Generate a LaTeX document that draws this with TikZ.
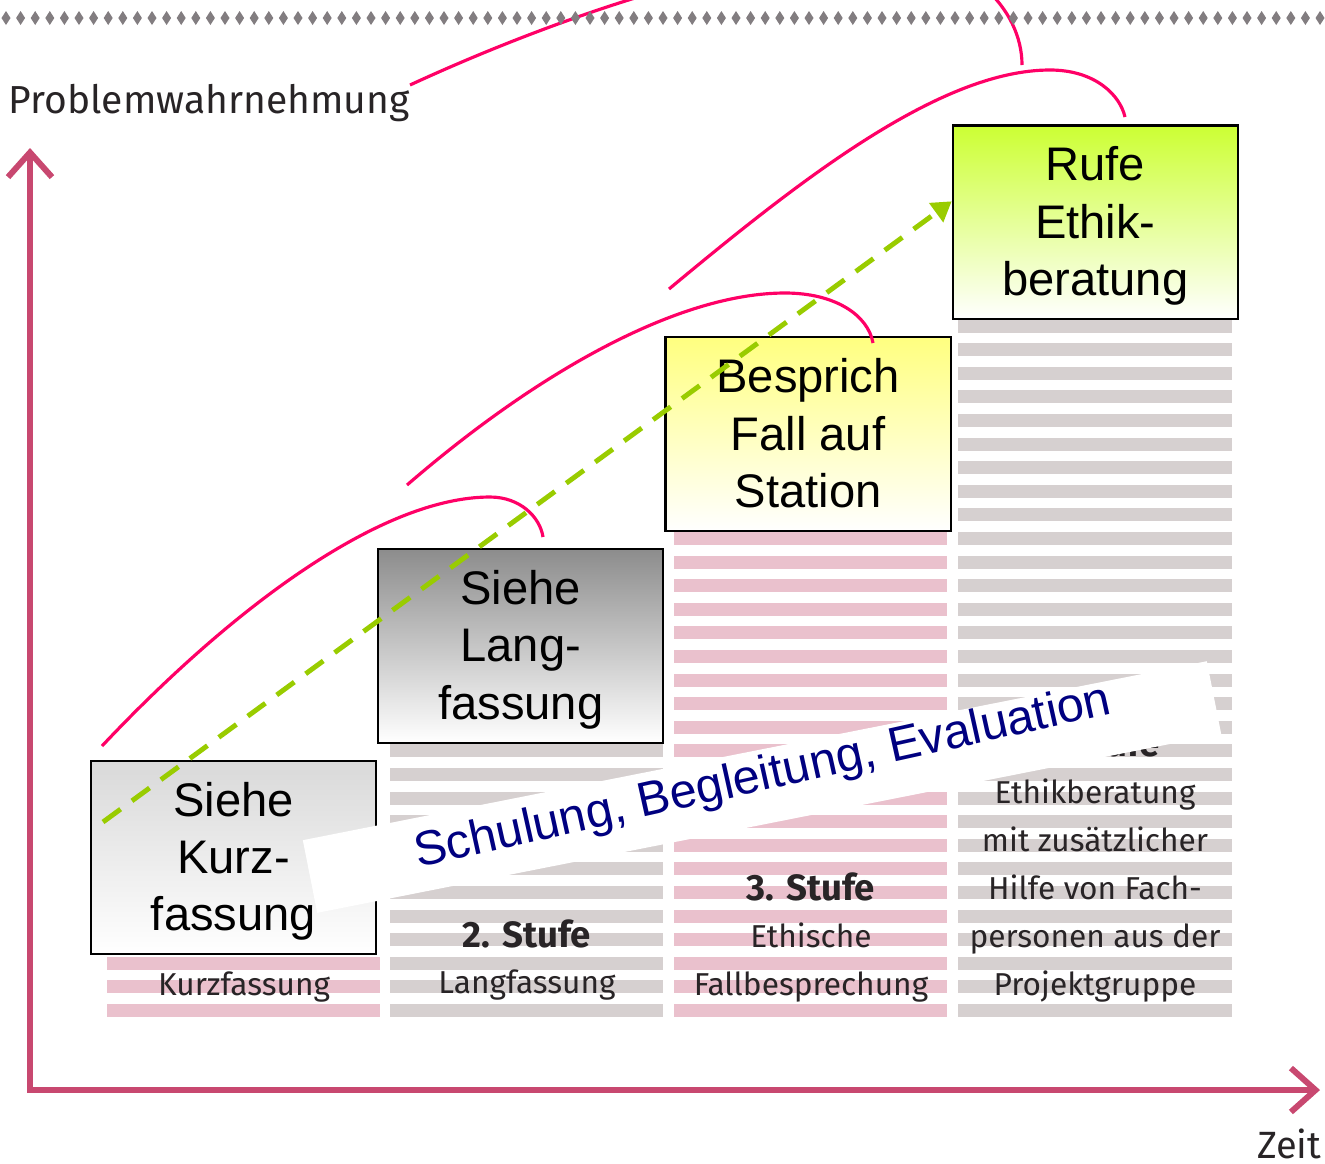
\documentclass[tikz,border=0pt]{standalone}
\usepackage{fontspec}
\setmainfont{Liberation Sans}
\newfontfamily\dinfont{Fira Sans}
\usetikzlibrary{arrows.meta,positioning}
\definecolor{axisred}{RGB}{200,72,112}
\definecolor{arcpink}{RGB}{255,0,102}
\definecolor{trendgreen}{RGB}{153,204,0}
\definecolor{stripepink}{RGB}{234,193,205}
\definecolor{stripegray}{RGB}{214,208,208}
\definecolor{dotgray}{RGB}{130,125,128}
\definecolor{labelgray}{RGB}{40,36,38}
\definecolor{bandblue}{RGB}{0,0,128}
\tikzstyle{stepbox} = [draw=black, line width=0.6pt, minimum width=2.85cm, minimum height=1.935cm, inner sep=0pt, align=center, text depth=0.6pt, font=\fontsize{13.4}{16.3}\selectfont]
\tikzstyle{collabel} = [inner sep=0pt, text=labelgray, font=\dinfont\fontsize{9}{11}\selectfont]
\tikzstyle{stufe} = [inner sep=0pt, text=labelgray, font=\dinfont\bfseries\fontsize{10.4}{12}\selectfont]
\tikzstyle{arc} = [arcpink, line width=0.9pt]
\tikzstyle{axis} = [axisred, line width=1.7pt, {Straight Barb[length=7pt,width=12.5pt]}-{Straight Barb[length=7pt,width=12.5pt]}]
\tikzstyle{trend} = [trendgreen, line width=1.4pt, dash pattern=on 6.2pt off 4pt, -{Triangle[length=5.5pt,width=6.5pt]}]

\begin{document}
\begin{tikzpicture}[x=0.01cm, y=-0.01cm]
        \useasboundingbox (0,0) rectangle (1325,1163);

        \foreach \x/\w/\n/\c in {107/273/2/stripepink, 390/273/11/stripegray, 674/273/20/stripepink, 958/274/29/stripegray}
            \foreach \k in {0,...,\n}
                \fill[\c] (\x,{1004-\k*23.6}) rectangle ++(\w,13);

        \node (kurzlbl) [collabel, anchor=base] at (244,995) {Kurzfassung};
        \node (stufe2) [stufe, anchor=base] at (527,947) {2. Stufe};
        \node (langlbl) [collabel, anchor=base] at (527,993) {Langfassung};
        \node (stufe3) [stufe, anchor=base] at (811,900) {3. Stufe};
        \node (ethlbl) [collabel, anchor=base] at (811,947) {Ethische};
        \node (falllbl) [collabel, anchor=base] at (811,995) {Fallbesprechung};
        \node (stufe4) [stufe, anchor=base] at (1095,756) {4. Stufe};
        \foreach \txt [count=\i from 0] in {Projektgruppe, personen aus der, Hilfe von Fach-, mit zusätzlicher, Ethikberatung}
            \node (beratlbl\i) [collabel, anchor=base] at (1095,{995-\i*47.8}) {\txt};

        \coordinate (ytop) at (30,148);
        \coordinate (origin) at (30,1090);
        \coordinate (xend) at (1320,1090);
        \draw[axis] (ytop) -- (origin) -- (xend);

        \node (kurz) [stepbox, top color=gray!30, bottom color=white] at (233.5,857.5) {};
        \node (lang) [stepbox, top color=gray!90, bottom color=white, above right=0.16cm and 0cm of kurz] {Siehe\\Lang-\\fassung};
        \node (fall) [stepbox, top color=yellow!50, bottom color=white, above right=0.16cm and 0cm of lang] {Besprich\\Fall auf\\Station};
        \node (rufe) [stepbox, top color={rgb,255:red,204;green,255;blue,51}, bottom color=white, above right=0.16cm and 0cm of fall] {Rufe\\Ethik-\\beratung};

        \node (band) [fill=white, inner sep=0pt, minimum width=9.21cm, minimum height=0.74cm, rotate=11.2] at (762,787) {};
        \node (bandtext) [inner sep=0pt, text=bandblue, rotate=12.5, font=\fontsize{13.8}{16}\selectfont] at (763,778) {Schulung, Begleitung, Evaluation};
        \node (kurztext) [stepbox, draw=none] at (kurz) {Siehe\\Kurz-\\fassung};

        \begin{scope}
            \clip (0,0) rectangle (1325,1163);
            \draw[arc] (102,746) .. controls (230,610) and (380,497) .. (490,497) .. controls (520,497) and (540,517) .. (543,537);
            \draw[arc] (407,485) .. controls (540,370) and (680,293) .. (785,293) .. controls (835,293) and (868,315) .. (873,343);
            \draw[arc] (669,289) .. controls (800,180) and (940,70) .. (1050,70) .. controls (1095,70) and (1120,95) .. (1125,117);
            \draw[arc] (410,85) .. controls (540,25) and (720,-40) .. (870,-50) .. controls (970,-50) and (1022,10) .. (1022,65);
        \end{scope}

        \coordinate (gstart) at (103,822);
        \draw[trend] (gstart) -- ([yshift=0.21cm]rufe.west);

        \foreach \i in {0,...,90}
            \fill[dotgray] ({6+\i*14.6},11) -- ++(4.5,7) -- ++(-4.5,7) -- ++(-4.5,-7) -- cycle;

        \node (ylabel) [inner sep=0pt, anchor=base west, text=labelgray, font=\dinfont\fontsize{11.1}{13}\selectfont] at (8,113) {Problemwahrnehmung};
        \node (xlabel) [inner sep=0pt, anchor=base east, text=labelgray, font=\dinfont\fontsize{10.8}{13}\selectfont] at (1322,1158) {Zeit};
    \end{tikzpicture}
\end{document}
